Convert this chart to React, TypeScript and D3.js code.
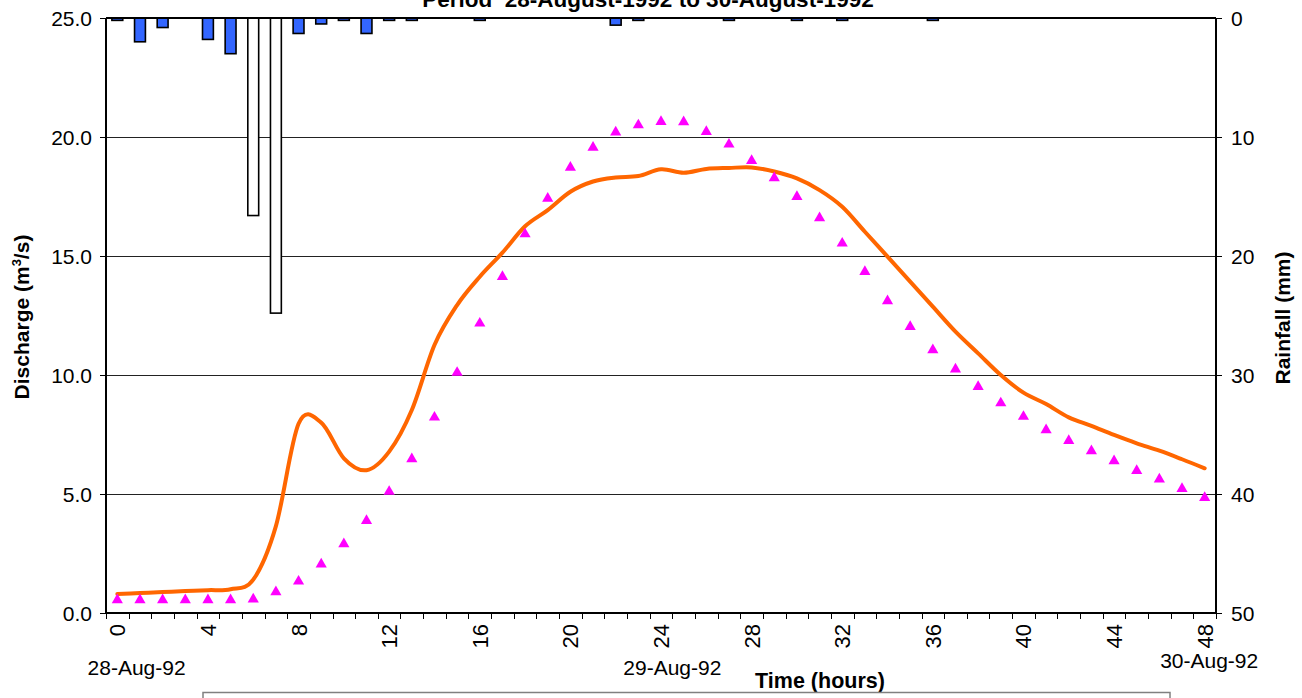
import React from "react";
import * as d3 from "d3";

const hours = [0,1,2,3,4,5,6,7,8,9,10,11,12,13,14,15,16,17,18,19,20,21,22,23,24,25,26,27,28,29,30,31,32,33,34,35,36,37,38,39,40,41,42,43,44,45,46,47,48];

const rainfall = [0.2,2.0,0.8,0,1.8,3.0,16.6,24.8,1.3,0.5,0.2,1.3,0.2,0.2,0,0,0.2,0,0,0,0,0,0.6,0.2,0,0,0,0.2,0,0,0.2,0,0.2,0,0,0,0.2,0,0,0,0,0,0,0,0,0,0,0,0];
const heavyHours = [6, 7];

const observed = [0.55,0.55,0.55,0.55,0.55,0.55,0.58,0.88,1.33,2.05,2.9,3.88,5.1,6.47,8.22,10.1,12.17,14.13,15.92,17.42,18.72,19.56,20.2,20.5,20.64,20.63,20.22,19.69,19.0,18.28,17.49,16.6,15.53,14.34,13.11,12.03,11.05,10.24,9.51,8.82,8.25,7.69,7.24,6.81,6.39,5.98,5.62,5.22,4.84];

const simulated = [0.80,0.84,0.88,0.92,0.96,1.0,1.4,3.65,7.95,8.0,6.5,6.0,6.78,8.53,11.26,12.94,14.13,15.14,16.25,16.93,17.7,18.13,18.3,18.36,18.64,18.5,18.66,18.7,18.72,18.55,18.26,17.77,17.07,16.02,14.97,13.92,12.87,11.82,10.91,10.0,9.26,8.78,8.22,7.86,7.48,7.13,6.82,6.46,6.08];

const dischargeTicks = [0, 5, 10, 15, 20, 25];
const rainTicks = [0, 10, 20, 30, 40, 50];
const hourLabels = [0, 4, 8, 12, 16, 20, 24, 28, 32, 36, 40, 44, 48];
const dateLabels = [
  { hour: 0.85, text: "28-Aug-92", row: 0 },
  { hour: 24.5, text: "29-Aug-92", row: 0 },
  { hour: 48.2, text: "30-Aug-92", row: 1 },
];
const titleText = "Period  28-August-1992 to 30-August-1992";

const FONT = "'Liberation Sans', Arial, Helvetica, sans-serif";

export default function App() {
  const left = 106, right = 1216, top = 18, bottom = 613;
  const x = d3.scaleBand<number>().domain(hours).range([left, right]).padding(0);
  const bw = x.bandwidth();
  const cx = (h: number) => (x(h) as number) + bw / 2;
  const xc = d3.scaleLinear().domain([0, 48]).range([cx(0), cx(48)]);
  const yL = d3.scaleLinear().domain([0, 25]).range([bottom, top]);
  const yR = d3.scaleLinear().domain([0, 50]).range([top, bottom]);

  const line = d3
    .line<number>()
    .x((_, i) => cx(hours[i]))
    .y((d) => yL(d))
    .curve(d3.curveCardinal.tension(0));

  const tri = d3.symbol().type(d3.symbolTriangle).size(54)() as string;
  const barW = bw * 0.48;

  return (
    <svg
      width={1302}
      height={698}
      style={{ position: "absolute", left: 0, top: 0, background: "#fff" }}
      fontFamily={FONT}
    >
      <rect x={0} y={0} width={1302} height={698} fill="#fff" />
      {/* title */}
      <text x={648} y={7} textAnchor="middle" fontWeight="bold" fontSize={22.5} style={{ whiteSpace: "pre" }}>
        {titleText}
      </text>

      {/* gridlines */}
      {dischargeTicks.filter((t) => t > 0 && t < 25).map((t) => (
        <line key={"g" + t} x1={left} x2={right} y1={yL(t) + 0.5} y2={yL(t) + 0.5} stroke="#222" strokeWidth={1} shapeRendering="crispEdges" />
      ))}

      {/* rainfall bars */}
      {rainfall.map((r, i) =>
        r > 0 ? (
          <rect
            key={"b" + i}
            x={cx(hours[i]) - barW / 2}
            y={yR(0)}
            width={barW}
            height={yR(r) - yR(0)}
            fill={heavyHours.includes(hours[i]) ? "#ffffff" : "#3366ff"}
            stroke="#000"
            strokeWidth={1.6}
          />
        ) : null
      )}

      {/* simulated line */}
      <path d={line(simulated) as string} fill="none" stroke="#ff6600" strokeWidth={4} strokeLinejoin="round" strokeLinecap="round" />

      {/* observed triangles */}
      {observed.map((v, i) => (
        <path key={"t" + i} d={tri} transform={`translate(${cx(hours[i])},${yL(v)})`} fill="#ff00ff" />
      ))}

      {/* frame */}
      <line x1={left} x2={right} y1={top} y2={top} stroke="#000" strokeWidth={2} />
      <line x1={left} x2={right} y1={bottom} y2={bottom} stroke="#000" strokeWidth={2} />
      <line x1={left} x2={left} y1={top} y2={bottom} stroke="#000" strokeWidth={2} />
      <line x1={right} x2={right} y1={top} y2={bottom} stroke="#000" strokeWidth={2} />

      {/* left axis */}
      {dischargeTicks.map((t) => (
        <g key={"l" + t}>
          <line x1={left - 6} x2={left} y1={yL(t) + 0.5} y2={yL(t) + 0.5} stroke="#000" strokeWidth={1} shapeRendering="crispEdges" />
          <text x={92} y={yL(t)} dy="0.36em" textAnchor="end" fontSize={21}>
            {t.toFixed(1)}
          </text>
        </g>
      ))}

      {/* right axis */}
      {rainTicks.map((t) => (
        <g key={"r" + t}>
          <line x1={right} x2={right + 6} y1={yR(t) + 0.5} y2={yR(t) + 0.5} stroke="#000" strokeWidth={1} shapeRendering="crispEdges" />
          <text x={1231} y={yR(t)} dy="0.36em" textAnchor="start" fontSize={21}>
            {t}
          </text>
        </g>
      ))}

      {/* x axis ticks at category boundaries */}
      {[...hours, 49].map((h) => {
        const xx = Math.round(left + h * bw) + 0.5;
        return <line key={"x" + h} x1={xx} x2={xx} y1={bottom} y2={bottom + 6} stroke="#000" strokeWidth={1} shapeRendering="crispEdges" />;
      })}
      {hourLabels.map((h) => (
        <text
          key={"hl" + h}
          transform={`translate(${cx(h) + 8},${624}) rotate(-90)`}
          textAnchor="end"
          fontSize={22}
        >
          {h}
        </text>
      ))}
      {dateLabels.map((d) => (
        <text key={d.text} x={xc(d.hour)} y={d.row === 0 ? 675 : 668} textAnchor="middle" fontSize={21}>
          {d.text}
        </text>
      ))}
      <text x={820} y={688} textAnchor="middle" fontWeight="bold" fontSize={21.5}>
        Time (hours)
      </text>

      {/* axis titles */}
      <text transform={`translate(29,317) rotate(-90)`} textAnchor="middle" fontWeight="bold" fontSize={21}>
        Discharge (m<tspan dy={-8} fontSize={13}>3</tspan>
        <tspan dy={8}>/s)</tspan>
      </text>
      <text transform={`translate(1290,318) rotate(-90)`} textAnchor="middle" fontWeight="bold" fontSize={21}>
        Rainfall (mm)
      </text>

      {/* legend box (cut off) */}
      <rect x={203} y={692.5} width={967} height={30} fill="#fff" stroke="#808080" strokeWidth={1.5} />
    </svg>
  );
}
